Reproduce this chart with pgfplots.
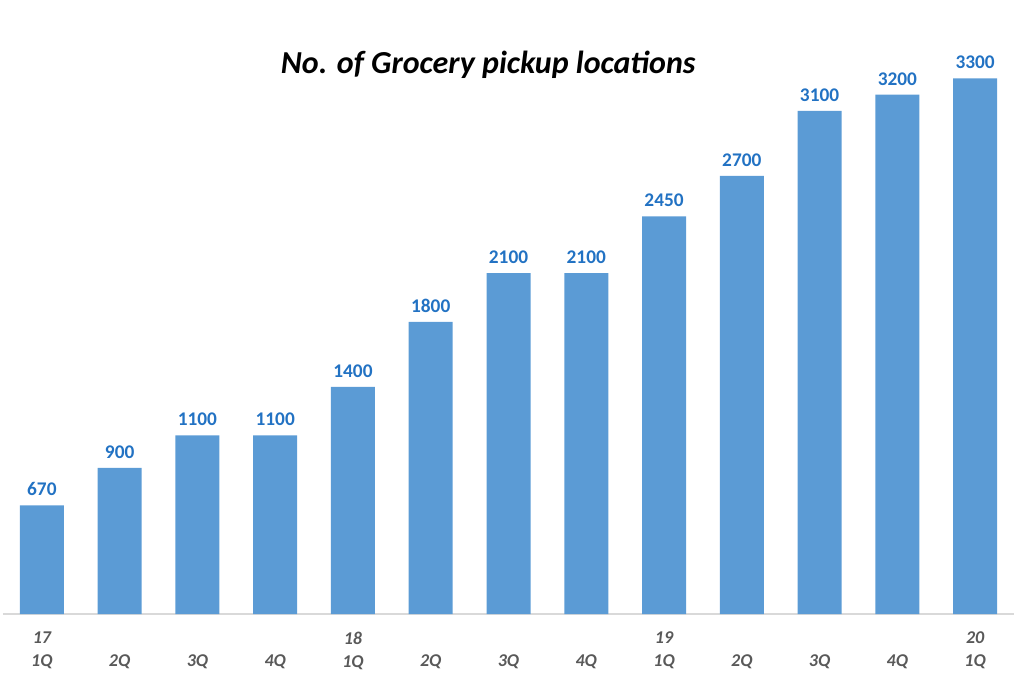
\documentclass[border=0pt]{standalone}
\usepackage{fontspec}
\setmainfont{Carlito}
\usepackage{pgfplots}
\pgfplotsset{compat=1.18}
\definecolor{BarBlue}{HTML}{5B9BD5}
\definecolor{LabelBlue}{HTML}{2272C3}
\definecolor{TickGray}{HTML}{595959}
\definecolor{AxisGray}{HTML}{D9D9D9}

\begin{document}
\begin{tikzpicture}
\begin{axis}[
  scale only axis,
  width=758.25pt,
  height=426pt,
  ybar,
  bar width=33pt,
  xmin=-0.5, xmax=12.5,
  ymin=0, ymax=3500,
  axis y line=none,
  axis x line*=bottom,
  x axis line style={AxisGray, line width=0.8pt, -},
  xtick=data,
  major tick length=0pt,
  xticklabels={17\\1Q,\phantom{00}\\2Q,\phantom{00}\\3Q,\phantom{00}\\4Q,18\\1Q,\phantom{00}\\2Q,\phantom{00}\\3Q,\phantom{00}\\4Q,19\\1Q,\phantom{00}\\2Q,\phantom{00}\\3Q,\phantom{00}\\4Q,20\\1Q},
  xticklabel style={font=\fontsize{13.5}{17}\selectfont\bfseries\itshape, text=TickGray, align=center, anchor=north, yshift=-10pt},
  nodes near coords,
  /pgf/number format/assume math mode=true,
  /pgf/number format/1000 sep={},
  every node near coord/.append style={font=\fontsize{14.5}{16}\selectfont\bfseries, text=LabelBlue, yshift=3.5pt},
  title={No. of Grocery pickup locations},
  title style={font=\fontsize{24}{28}\selectfont\bfseries\itshape, at={(0.48,0.952)}, anchor=center},
]
\addplot[fill=BarBlue, draw=none] coordinates {
  (0,670) (1,900) (2,1100) (3,1100) (4,1400) (5,1800) (6,2100)
  (7,2100) (8,2450) (9,2700) (10,3100) (11,3200) (12,3300)
};
\end{axis}
\pgfresetboundingbox
\path[use as bounding box] (-2.25pt,-51.75pt) rectangle (765.75pt,460.5pt);
\end{tikzpicture}
\end{document}
